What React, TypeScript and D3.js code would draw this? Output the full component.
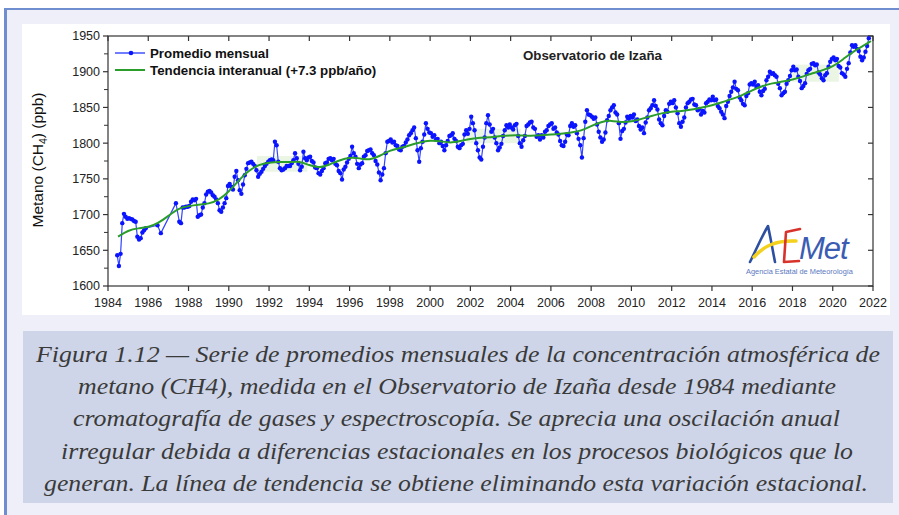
import React from "react"
import * as d3 from "d3"

const W = 899
const H = 515
const PLOT = { left: 108, right: 873, top: 36, bottom: 286 }

// monthly CH4 means (ppb), Jan..Dec per row, null = no data
const YEARS_80S = [1984, 1985, 1986, 1987, 1988, 1989]
const CH4_80S = [
  [null, null, null, null, null, 1643, 1628, 1645, 1688, 1701, 1697, 1694],
  [1695, 1694, 1693, 1691, 1690, 1669, 1665, 1667, 1675, 1678, 1681, null],
  [null, null, null, null, null, 1685, null, 1674, null, null, null, null],
  [null, null, null, null, 1716, null, 1690, 1688, 1710, 1710, 1711, 1711],
  [1712, 1718, 1721, 1720, 1722, 1697, 1699, 1700, 1710, 1716, 1728, 1732],
  [1733, 1731, 1727, 1725, 1721, 1716, 1706, 1704, 1710, 1716, 1723, 1740],
]
const YEARS_90S = [1990, 1991, 1992, 1993, 1994, 1995, 1996, 1997, 1998, 1999]
const CH4_90S = [
  [1743, 1739, 1735, 1753, 1761, 1748, 1734, 1729, 1742, 1755, 1764, 1772],
  [1773, 1774, 1771, 1768, 1762, 1753, 1757, 1760, 1764, 1768, 1771, 1774],
  [1776, 1777, 1776, 1802, 1797, 1774, 1765, 1762, 1763, 1765, 1768, 1768],
  [1768, 1772, 1776, 1786, 1779, 1771, 1762, 1767, 1788, 1779, 1776, 1780],
  [1781, 1775, 1773, 1766, 1765, 1758, 1756, 1761, 1765, 1772, 1773, 1778],
  [1779, 1776, 1778, 1771, 1769, 1761, 1758, 1749, 1763, 1767, 1773, 1778],
  [1782, 1795, 1786, 1781, 1771, 1765, 1770, 1772, 1781, 1783, 1789, 1790],
  [1791, 1786, 1783, 1775, 1770, 1759, 1748, 1756, 1765, 1786, 1802, 1803],
  [1805, 1801, 1802, 1797, 1796, 1791, 1790, 1795, 1796, 1801, 1805, 1811],
  [1814, 1818, 1822, 1807, 1790, 1774, 1793, 1802, 1812, 1828, 1820, 1815],
]
const YEARS_00S = [2000, 2001, 2002, 2003, 2004, 2005, 2006, 2007, 2008, 2009]
const CH4_00S = [
  [1814, 1809, 1811, 1805, 1806, 1800, 1802, 1796, 1790, 1797, 1803, 1810],
  [1811, 1814, 1806, 1803, 1795, 1793, 1797, 1799, 1812, 1818, 1813, 1820],
  [1837, 1828, 1818, 1800, 1790, 1780, 1777, 1795, 1808, 1828, 1839, 1826],
  [1816, 1820, 1808, 1800, 1790, 1794, 1799, 1810, 1818, 1825, 1822, 1826],
  [1822, 1819, 1825, 1827, 1810, 1800, 1795, 1804, 1810, 1824, 1826, 1829],
  [1830, 1822, 1820, 1809, 1811, 1805, 1811, 1808, 1816, 1818, 1824, 1826],
  [1828, 1820, 1822, 1815, 1812, 1803, 1797, 1796, 1802, 1812, 1811, 1824],
  [1828, 1823, 1825, 1814, 1806, 1797, 1780, 1807, 1830, 1846, 1840, 1839],
  [1837, 1834, 1836, 1826, 1816, 1808, 1802, 1805, 1815, 1832, 1838, 1846],
  [1850, 1853, 1843, 1840, 1828, 1806, 1817, 1820, 1829, 1837, 1834, 1838],
]
const YEARS_10S = [2010, 2011, 2012, 2013, 2014, 2015, 2016, 2017, 2018, 2019]
const CH4_10S = [
  [1836, 1840, 1831, 1833, 1824, 1819, 1822, 1814, 1829, 1836, 1846, 1849],
  [1853, 1860, 1852, 1847, 1833, 1828, 1825, 1838, 1846, 1844, 1855, 1858],
  [1856, 1860, 1850, 1842, 1828, 1823, 1830, 1836, 1850, 1856, 1858, 1861],
  [1862, 1854, 1853, 1846, 1848, 1840, 1845, 1843, 1856, 1858, 1861, 1860],
  [1865, 1860, 1861, 1852, 1849, 1844, 1840, 1835, 1852, 1858, 1866, 1872],
  [1878, 1886, 1876, 1874, 1864, 1860, 1855, 1853, 1866, 1870, 1882, 1884],
  [1882, 1886, 1879, 1881, 1872, 1867, 1873, 1876, 1888, 1893, 1900, 1897],
  [1898, 1895, 1893, 1883, 1877, 1867, 1870, 1872, 1883, 1888, 1894, 1902],
  [1907, 1902, 1903, 1893, 1887, 1877, 1880, 1884, 1897, 1902, 1904, 1911],
  [1912, 1909, 1910, 1899, 1896, 1891, 1888, 1895, 1898, 1907, 1914, 1918],
]
const YEARS_20S = [2020, 2021]
const CH4_20S = [
  [1920, 1916, 1918, 1908, 1906, 1898, 1896, 1893, 1904, 1912, 1927, 1937],
  [1935, 1937, 1932, 1929, 1921, 1916, 1920, 1928, 1936, 1947, null, null],
]

// interannual trend (deseasonalised)
const TREND_T = [
  1984.5, 1985, 1985.5, 1986, 1986.5, 1987, 1987.5, 1988, 1988.5, 1989, 1989.5, 1990, 1990.5,
  1991, 1991.5, 1992, 1992.5, 1993, 1993.5, 1994, 1994.5, 1995, 1995.5, 1996, 1996.5, 1997,
  1997.5, 1998, 1998.5, 1999, 1999.5, 2000, 2000.5, 2001, 2001.5, 2002, 2002.5, 2003, 2003.5,
  2004, 2004.5, 2005, 2005.5, 2006, 2006.5, 2007, 2007.5, 2008, 2008.5, 2009, 2009.5, 2010,
  2010.5, 2011, 2011.5, 2012, 2012.5, 2013, 2013.5, 2014, 2014.5, 2015, 2015.5, 2016, 2016.5,
  2017, 2017.5, 2018, 2018.5, 2019, 2019.5, 2020, 2020.5, 2021, 2021.5, 2021.9,
]
const TREND_V = [
  1669, 1678, 1681, 1682, 1688, 1698, 1709, 1712, 1714, 1715, 1720, 1732, 1748,
  1762, 1770, 1773, 1774, 1773, 1775, 1769, 1765, 1770, 1776, 1780, 1779, 1776,
  1782, 1790, 1793, 1797, 1801, 1804, 1803, 1800, 1803, 1806, 1808, 1808, 1810,
  1811, 1811, 1810, 1811, 1812, 1813, 1815, 1817, 1824, 1830, 1832, 1829, 1830,
  1834, 1838, 1842, 1844, 1845, 1847, 1850, 1853, 1857, 1862, 1867, 1874, 1880,
  1884, 1886, 1889, 1893, 1898, 1902, 1907, 1917, 1928, 1936, 1943,
]

// faint greenish patches behind the series in the original scan
const PATCH_T0 = [1991.4, 2001.8, 2018.0]
const PATCH_T1 = [1993.9, 2004.5, 2020.3]
const PATCH_V0 = [1760, 1800, 1886]
const PATCH_V1 = [1782, 1820, 1910]

const X_TICKS = d3.range(1984, 2023, 2)
const Y_TICKS = [1600, 1650, 1700, 1750, 1800, 1850, 1900, 1950]
const Y_MINOR = [1625, 1675, 1725, 1775, 1825, 1875, 1925]

const CAPTION = [
  "Figura 1.12 — Serie de promedios mensuales de la concentración atmosférica de",
  "metano (CH4), medida en el Observatorio de Izaña desde 1984 mediante",
  "cromatografía de gases y espectroscopía. Se aprecia una oscilación anual",
  "irregular debida a diferencias estacionales en los procesos biológicos que lo",
  "generan. La línea de tendencia se obtiene eliminando esta variación estacional.",
]
const CAPTION_SPAN = [
  [36, 880],
  [78, 836],
  [73, 840],
  [61, 853],
  [44, 868],
]

const SANS = "'Liberation Sans', Arimo, Roboto, sans-serif"
const SERIF = "'Liberation Serif', Tinos, 'Times New Roman', serif"

export default function App() {
  const x = d3.scaleLinear().domain([1984, 2022]).range([PLOT.left, PLOT.right])
  const y = d3.scaleLinear().domain([1600, 1950]).range([PLOT.bottom, PLOT.top])

  const monthly: [number, number][] = []
  const blocks: [number[], (number | null)[][]][] = [
    [YEARS_80S, CH4_80S],
    [YEARS_90S, CH4_90S],
    [YEARS_00S, CH4_00S],
    [YEARS_10S, CH4_10S],
    [YEARS_20S, CH4_20S],
  ]
  blocks.forEach(([years, rows]) => {
    rows.forEach((row, i) => {
      row.forEach((v, m) => {
        if (v != null) monthly.push([years[i] + (m + 0.5) / 12, v])
      })
    })
  })

  const line = d3
    .line<[number, number]>()
    .x(d => x(d[0]))
    .y(d => y(d[1]))
  const trendLine = d3
    .line<number>()
    .x(d => x(d))
    .y((_, i) => y(TREND_V[i]))
    .curve(d3.curveBasis)

  const axisColor = "#333"

  return (
    <svg
      width={W}
      height={H}
      style={{ position: "fixed", left: 0, top: 0, display: "block", fontFamily: SANS }}
    >
      <rect x={0} y={0} width={W} height={H} fill="#ffffff" />
      <rect x={4} y={9} width={W - 4} height={H - 9} fill="#eeeff8" />
      <line x1={4} x2={W} y1={9} y2={9} stroke="#6f8ed0" strokeWidth={2} />
      <line x1={5.5} x2={5.5} y1={9} y2={H} stroke="#6f8ed0" strokeWidth={3} />

      {/* chart panel */}
      <rect x={22} y={24} width={868} height={291} fill="#ffffff" />

      {PATCH_T0.map((t, i) => (
        <rect
          key={"p" + i}
          x={x(t)}
          y={y(PATCH_V1[i])}
          width={x(PATCH_T1[i]) - x(t)}
          height={y(PATCH_V0[i]) - y(PATCH_V1[i])}
          fill="#e4f1da"
          opacity={0.75}
        />
      ))}

      {/* frame */}
      <rect
        x={PLOT.left}
        y={PLOT.top}
        width={PLOT.right - PLOT.left}
        height={PLOT.bottom - PLOT.top}
        fill="none"
        stroke={axisColor}
        strokeWidth={1.2}
      />
      {X_TICKS.map(t => (
        <g key={"xt" + t}>
          <line x1={x(t)} x2={x(t)} y1={PLOT.bottom} y2={PLOT.bottom + 5} stroke={axisColor} strokeWidth={1.2} />
          <line x1={x(t)} x2={x(t)} y1={PLOT.top} y2={PLOT.top + 5} stroke={axisColor} strokeWidth={1.2} />
          <text x={x(t)} y={307} textAnchor="middle" fontSize={12.5} fill="#222">
            {t}
          </text>
        </g>
      ))}
      {Y_TICKS.map(t => (
        <g key={"yt" + t}>
          <line x1={PLOT.left - 5} x2={PLOT.left} y1={y(t)} y2={y(t)} stroke={axisColor} strokeWidth={1.2} />
          <line x1={PLOT.right - 5} x2={PLOT.right} y1={y(t)} y2={y(t)} stroke={axisColor} strokeWidth={1.2} />
          <text x={100} y={y(t)} dy="0.35em" textAnchor="end" fontSize={12.5} fill="#222">
            {t}
          </text>
        </g>
      ))}
      {Y_MINOR.map(t => (
        <line key={"ym" + t} x1={PLOT.left - 4} x2={PLOT.left} y1={y(t)} y2={y(t)} stroke={axisColor} strokeWidth={1} />
      ))}

      <text transform="translate(43,160) rotate(-90)" textAnchor="middle" fontSize={15.5} fill="#111">
        Metano (CH<tspan fontSize={10.5} dy={4}>4</tspan>
        <tspan dy={-4}>) (ppb)</tspan>
      </text>

      {/* series */}
      <path d={line(monthly) ?? ""} fill="none" stroke="#3345ff" strokeWidth={1.2} strokeLinejoin="round" />
      {monthly.map((d, i) => (
        <circle key={i} cx={x(d[0])} cy={y(d[1])} r={2.2} fill="#0a14ff" />
      ))}
      <path d={trendLine(TREND_T) ?? ""} fill="none" stroke="#2a9d2a" strokeWidth={2} />

      {/* legend */}
      <line x1={115} x2={145} y1={53} y2={53} stroke="#3345ff" strokeWidth={1.4} />
      <circle cx={131} cy={53} r={2.3} fill="#0a14ff" />
      <text x={150} y={58} fontSize={13.3} fontWeight="bold" fill="#111">
        Promedio mensual
      </text>
      <line x1={115} x2={145} y1={70} y2={70} stroke="#2a9d2a" strokeWidth={2} />
      <text x={150} y={75} fontSize={13.3} fontWeight="bold" fill="#111">
        Tendencia interanual (+7.3 ppb/año)
      </text>
      <text x={523} y={60} fontSize={13.3} fontWeight="bold" fill="#222">
        Observatorio de Izaña
      </text>

      {/* AEMet logo */}
      <g fill="none" strokeLinecap="round" strokeLinejoin="round">
        <path d="M750,262 C756,250 762,236 768,226 C771,240 773,252 775,262" stroke="#2d4fa0" strokeWidth={2.6} />
        <path d="M754,257 C764,246 776,240 796,241" stroke="#f3d11c" strokeWidth={3.5} />
        <path d="M800,229 L786,232 L784,262 L799,261" stroke="#d7332c" strokeWidth={2.6} />
      </g>
      <text x={799} y={259} fontSize={31} fontStyle="italic" fill="#3b5cb3" letterSpacing={-1}>
        Met
      </text>
      <text x={746} y={274} fontSize={7} fill="#5a78c0" textLength={107} lengthAdjust="spacingAndGlyphs">
        Agencia Estatal de Meteorología
      </text>

      {/* caption */}
      <rect x={23} y={331} width={870} height={172} fill="#ced5e8" />
      {CAPTION.map((s, i) => (
        <text
          key={i}
          x={CAPTION_SPAN[i][0]}
          y={362 + i * 32.2}
          style={{ fontFamily: SERIF }}
          fontStyle="italic"
          fontSize={24}
          fill="#3a3a3a"
          textLength={CAPTION_SPAN[i][1] - CAPTION_SPAN[i][0]}
          lengthAdjust="spacingAndGlyphs"
        >
          {s}
        </text>
      ))}
    </svg>
  )
}
